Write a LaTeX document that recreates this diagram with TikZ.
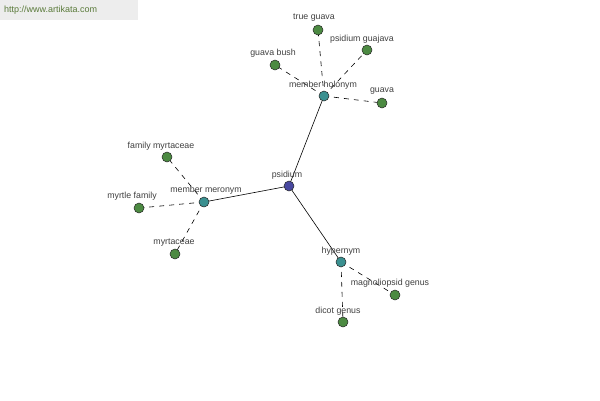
\documentclass[tikz,border=0pt]{standalone}
\usepackage{fontspec}
\setmainfont{Liberation Sans}
\definecolor{cnode}{HTML}{4848A0}
\definecolor{hnode}{HTML}{3A9090}
\definecolor{lnode}{HTML}{4C8A42}
\definecolor{wmtext}{HTML}{5A7A3A}
\begin{document}
\begin{tikzpicture}[x=1pt,y=-1pt,
  every node/.style={inner sep=0pt},
  lbl/.style={font=\fontsize{8.8}{10}\selectfont, text=black!75},
  center/.style={circle,draw=black!85,line width=0.5pt,fill=cnode,minimum size=10pt},
  hub/.style={circle,draw=black!85,line width=0.5pt,fill=hnode,minimum size=10pt},
  leaf/.style={circle,draw=black!85,line width=0.5pt,fill=lnode,minimum size=10pt},
  solidedge/.style={draw=black,line width=0.6pt},
  dashedge/.style={draw=black,line width=0.6pt,dash pattern=on 5pt off 5pt}]
\useasboundingbox[fill=white] (0,0) rectangle (600,400);
\fill[black!7] (0,0) rectangle (138,20);
\node[font=\fontsize{9}{10}\selectfont, text=wmtext, anchor=west] (wm) at (4,10) {http://www.artikata.com};

% node coordinates
\coordinate (ps) at (289,186);
\coordinate (mh) at (324,96);
\coordinate (mm) at (204,202);
\coordinate (hy) at (341,262);
\coordinate (tg) at (318,30);
\coordinate (pg) at (367,50);
\coordinate (gb) at (275,65);
\coordinate (gu) at (382,103);
\coordinate (fm) at (167,157);
\coordinate (mf) at (139,208);
\coordinate (my) at (175,254);
\coordinate (mg) at (395,295);
\coordinate (dg) at (343,322);

% edges
\draw[solidedge] (ps) -- (mh);
\draw[solidedge] (ps) -- (mm);
\draw[solidedge] (ps) -- (hy);
\draw[dashedge] (mh) -- (tg);
\draw[dashedge] (mh) -- (pg);
\draw[dashedge] (mh) -- (gb);
\draw[dashedge] (mh) -- (gu);
\draw[dashedge] (mm) -- (fm);
\draw[dashedge] (mm) -- (mf);
\draw[dashedge] (mm) -- (my);
\draw[dashedge] (hy) -- (mg);
\draw[dashedge] (hy) -- (dg);

% labels
\node[lbl] (lps) at (287,175) {psidium};
\node[lbl] (lmh) at (323,85) {member holonym};
\node[lbl] (lmm) at (206,190) {member meronym};
\node[lbl] (lhy) at (341,251) {hypernym};
\node[lbl] (ltg) at (314,18) {true guava};
\node[lbl] (lpg) at (362,39) {psidium guajava};
\node[lbl] (lgb) at (273,53) {guava bush};
\node[lbl] (lgu) at (382,91) {guava};
\node[lbl] (lfm) at (161,146) {family myrtaceae};
\node[lbl] (lmf) at (132,196) {myrtle family};
\node[lbl] (lmy) at (174,243) {myrtaceae};
\node[lbl] (lmg) at (390,283) {magnoliopsid genus};
\node[lbl] (ldg) at (338,311) {dicot genus};

% nodes
\node[center] (nps) at (ps) {};
\node[hub] (nmh) at (mh) {};
\node[hub] (nmm) at (mm) {};
\node[hub] (nhy) at (hy) {};
\node[leaf] (ntg) at (tg) {};
\node[leaf] (npg) at (pg) {};
\node[leaf] (ngb) at (gb) {};
\node[leaf] (ngu) at (gu) {};
\node[leaf] (nfm) at (fm) {};
\node[leaf] (nmf) at (mf) {};
\node[leaf] (nmy) at (my) {};
\node[leaf] (nmg) at (mg) {};
\node[leaf] (ndg) at (dg) {};
\end{tikzpicture}
\end{document}
